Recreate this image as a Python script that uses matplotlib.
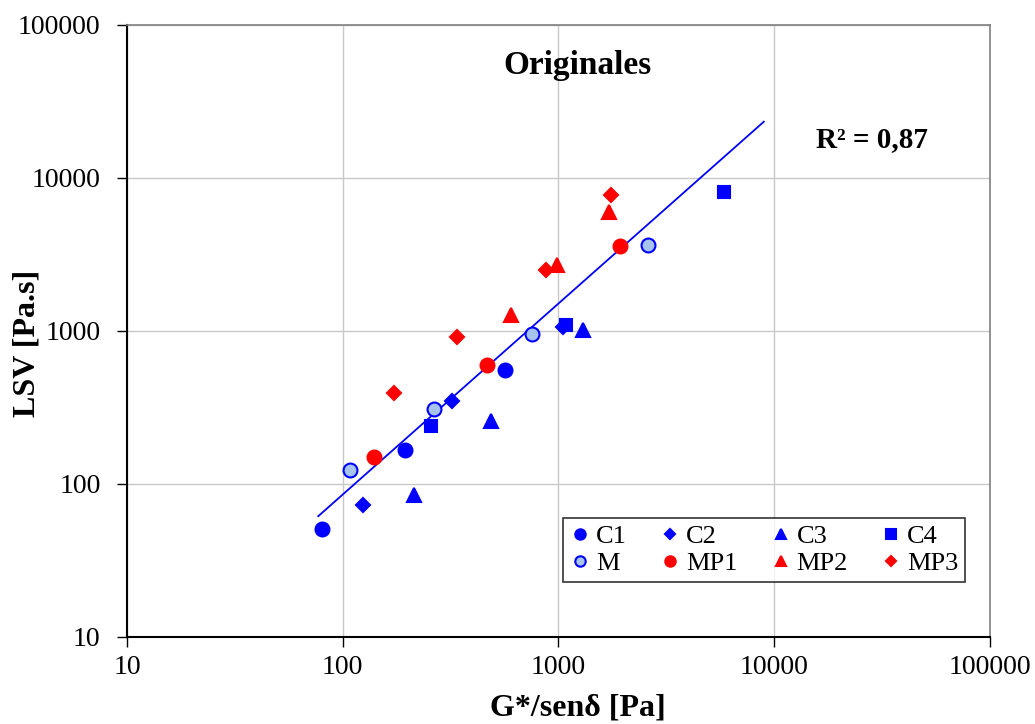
import numpy as np
import matplotlib
matplotlib.use('Agg')
import matplotlib.pyplot as plt

plt.rcParams['font.family'] = ['Liberation Serif', 'DejaVu Serif']

# Datos: G*/sen(delta) [Pa] y LSV [Pa.s]
c1_x = [80, 194, 565]
c1_y = [51, 167, 556]
c2_x = [124, 321, 1050]
c2_y = [73, 348, 1062]
c3_x = [214, 486, 1300]
c3_y = [85, 258, 1016]
c4_x = [256, 1084, 5850]
c4_y = [239, 1094, 8100]
m_x = [108, 265, 753, 2600]
m_y = [124, 309, 955, 3650]
mp1_x = [140, 466, 1928]
mp1_y = [150, 600, 3594]
mp2_x = [603, 984, 1714]
mp2_y = [1273, 2700, 5996]
mp3_x = [173, 339, 875, 1750]
mp3_y = [393, 914, 2504, 7742]

# rango de la linea de tendencia
trend_xmin = 77
trend_xmax = 8950
r2_text = 'R\u00b2 = 0,87'

blue = '#0000FF'
red = '#FF0000'
light = '#A7C4EE'

fig = plt.figure(figsize=(10.35, 7.24), dpi=100)
ax = fig.add_axes([0.1227, 0.1202, 0.8338, 0.8453])

series = [
    ('C1', c1_x, c1_y, 'o', 10, blue, blue),
    ('C2', c2_x, c2_y, 'D', 7, blue, blue),
    ('C3', c3_x, c3_y, '^', 10, blue, blue),
    ('C4', c4_x, c4_y, 's', 9, blue, blue),
    ('M', m_x, m_y, 'o', 10, light, blue),
    ('MP1', mp1_x, mp1_y, 'o', 10, red, red),
    ('MP2', mp2_x, mp2_y, '^', 10, red, red),
    ('MP3', mp3_x, mp3_y, 'D', 7, red, red),
]

handles = []
for name, xs, ys, mk, ms, fc, ec in series:
    h, = ax.plot(xs, ys, linestyle='none', marker=mk, markersize=ms,
                 markerfacecolor=fc, markeredgecolor=ec, markeredgewidth=1.5,
                 label=name, zorder=3)
    handles.append(h)

# Ajuste potencial con todos los puntos
all_x = np.concatenate([np.array(s[1], dtype=float) for s in series])
all_y = np.concatenate([np.array(s[2], dtype=float) for s in series])
b, a = np.polyfit(np.log10(all_x), np.log10(all_y), 1)
xt = np.logspace(np.log10(trend_xmin), np.log10(trend_xmax), 50)
ax.plot(xt, 10 ** a * xt ** b, color=blue, linewidth=1.3, zorder=2)

ax.set_xscale('log')
ax.set_yscale('log')
ax.set_xlim(10, 100000)
ax.set_ylim(10, 100000)
ticks = [10, 100, 1000, 10000, 100000]
labels = ['10', '100', '1000', '10000', '100000']
ax.set_xticks(ticks)
ax.set_xticklabels(labels)
ax.set_yticks(ticks)
ax.set_yticklabels(labels)
ax.minorticks_off()
ax.tick_params(axis='both', which='major', direction='out', length=7,
               width=1, labelsize=20)
ax.tick_params(axis='y', pad=12)
ax.tick_params(axis='x', pad=6)
ax.grid(True, color='#C8C8C8', linewidth=1)
ax.set_axisbelow(True)

for side in ['top', 'right']:
    ax.spines[side].set_color('#808080')
    ax.spines[side].set_linewidth(1.2)
for side in ['left', 'bottom']:
    ax.spines[side].set_color('black')
    ax.spines[side].set_linewidth(1.5)

ax.set_xlabel('G*/sen\u03b4 [Pa]', fontsize=23, fontweight='bold')
ax.set_ylabel('LSV [Pa.s]', fontsize=23, fontweight='bold')
ax.xaxis.set_label_coords(0.522, -0.116)
ax.yaxis.set_label_coords(-0.116, 0.48)
ax.xaxis.label.set_va('center')
ax.yaxis.label.set_va('center')

ax.text(0.522, 0.933, 'Originales', transform=ax.transAxes, fontsize=24,
        fontweight='bold', ha='center', va='center')
ax.text(0.863, 0.812, r2_text, transform=ax.transAxes, fontsize=21,
        fontweight='bold', ha='center', va='center')

# orden por filas: C1 C2 C3 C4 / M MP1 MP2 MP3
order = [0, 4, 1, 5, 2, 6, 3, 7]
leg = ax.legend([handles[i] for i in order], [series[i][0] for i in order],
                ncol=4, loc='lower left', bbox_to_anchor=(0.505, 0.09, 0.466, 0.122),
                mode='expand', fontsize=19, frameon=True, fancybox=False,
                handlelength=0.8, handletextpad=0.2, columnspacing=0.6,
                borderpad=0.25, labelspacing=0.15, markerscale=0.75,
                borderaxespad=0)
leg.get_frame().set_edgecolor('black')
leg.get_frame().set_linewidth(1.2)

fig.savefig('out.png', dpi=100, facecolor='white')
